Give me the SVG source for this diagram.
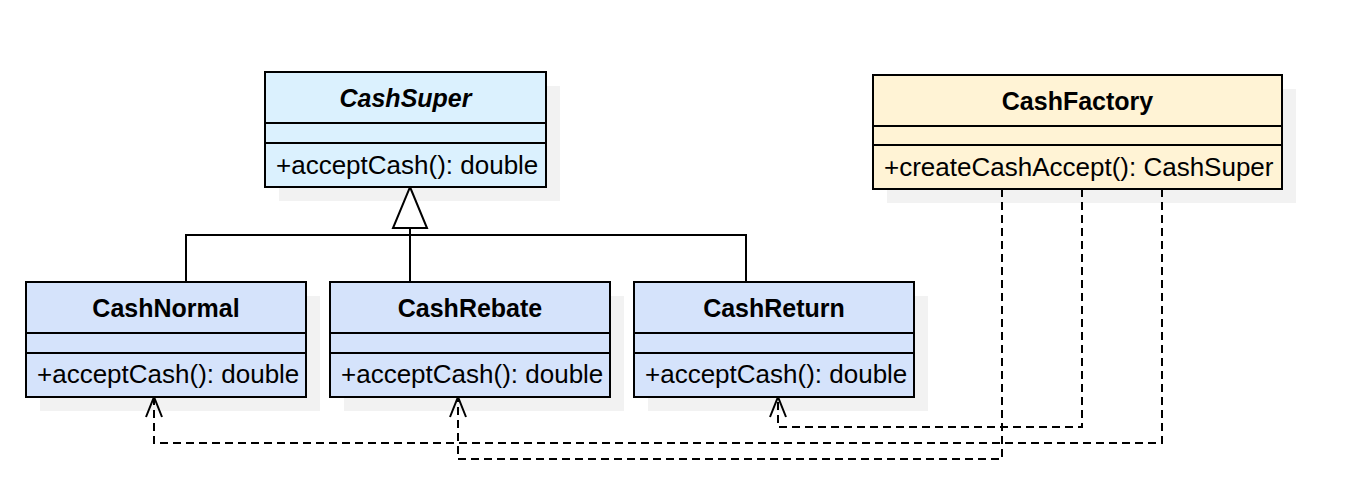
<svg xmlns="http://www.w3.org/2000/svg" width="1356" height="488" viewBox="0 0 1356 488">
<style>
.shadow{fill:#f2f2f2;stroke:none}
.box{stroke:#000;stroke-width:2}
.sup{fill:#dbf1fe}
.sub{fill:#d5e3fb}
.fac{fill:#fff3d5}
.div{stroke:#000;stroke-width:2;fill:none}
.hdr{font-family:"Liberation Sans",Arial,sans-serif;font-size:25px;font-weight:bold;text-anchor:middle;fill:#000}
.mth{font-family:"Liberation Sans",Arial,sans-serif;font-size:26px;fill:#000}
.edge{stroke:#000;stroke-width:2;fill:none}
.dash{stroke:#000;stroke-width:2;fill:none;stroke-dasharray:8 5}
</style>
<defs>
<marker id="open" markerUnits="userSpaceOnUse" markerWidth="24" markerHeight="24" viewBox="-12 -2 24 26" refX="0" refY="0" orient="auto-start-reverse" overflow="visible">
<path d="M-8,20 L0,0 L8,20" fill="none" stroke="#000" stroke-width="2"/>
</marker>
</defs>
<g id="shadows">
<rect class="shadow" x="279" y="86" width="281" height="115"/>
<rect class="shadow" x="887" y="89" width="409" height="114"/>
<rect class="shadow" x="40" y="296" width="280" height="115"/>
<rect class="shadow" x="344" y="296" width="280" height="115"/>
<rect class="shadow" x="648" y="296" width="280" height="115"/>
</g>
<g id="connectors">
<path class="edge" d="M410,228 L410,282 M186,282 L186,235 L746,235 L746,282"/>
<path d="M410,187 L427,228 L393,228 Z" fill="#fff" stroke="#000" stroke-width="2" stroke-linejoin="miter"/>
<path class="dash" d="M1162,189 L1162,443 L154,443 L154,398"/>
<path class="dash" d="M1002,189 L1002,459 L458,459 L458,398"/>
<path class="dash" d="M1082,189 L1082,427 L778,427 L778,398"/>
<path class="edge" d="M146,417 L154,397 L162,417 M450,417 L458,397 L466,417 M770,417 L778,397 L786,417"/>
</g>
<g id="CashSuper">
<rect class="box sup" x="265" y="72" width="281" height="115"/>
<path class="div" d="M265,123 H546 M265,143 H546"/>
<text class="hdr" x="405.5" y="106.5" font-style="italic">CashSuper</text>
<text class="mth" x="276" y="173.5">+acceptCash(): double</text>
</g>
<g id="CashFactory">
<rect class="box fac" x="873" y="75" width="409" height="114"/>
<path class="div" d="M873,126 H1282 M873,145 H1282"/>
<text class="hdr" x="1077.5" y="109.5">CashFactory</text>
<text class="mth" x="884" y="175.5">+createCashAccept(): CashSuper</text>
</g>
<g id="CashNormal">
<rect class="box sub" x="26" y="282" width="280" height="115"/>
<path class="div" d="M26,333 H306 M26,353 H306"/>
<text class="hdr" x="166" y="316.5">CashNormal</text>
<text class="mth" x="37" y="383">+acceptCash(): double</text>
</g>
<g id="CashRebate">
<rect class="box sub" x="330" y="282" width="280" height="115"/>
<path class="div" d="M330,333 H610 M330,353 H610"/>
<text class="hdr" x="470" y="316.5">CashRebate</text>
<text class="mth" x="341" y="383">+acceptCash(): double</text>
</g>
<g id="CashReturn">
<rect class="box sub" x="634" y="282" width="280" height="115"/>
<path class="div" d="M634,333 H914 M634,353 H914"/>
<text class="hdr" x="774" y="316.5">CashReturn</text>
<text class="mth" x="645" y="383">+acceptCash(): double</text>
</g>
</svg>
